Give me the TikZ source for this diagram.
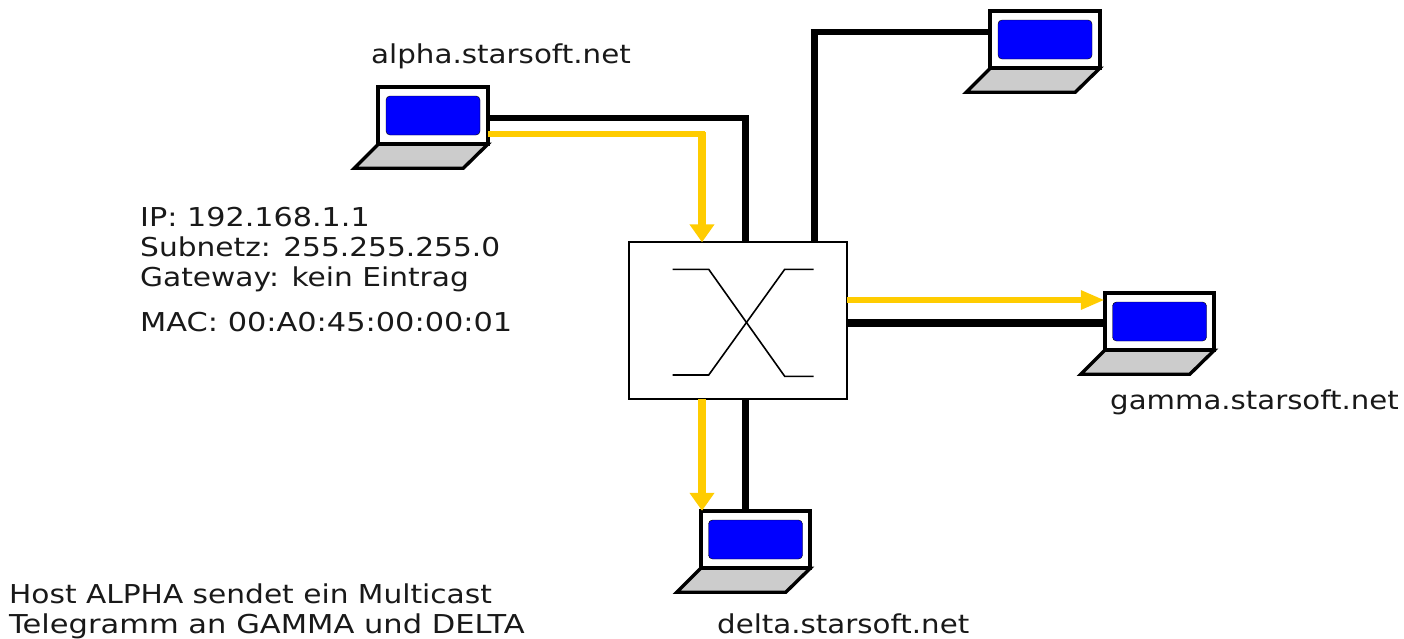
\documentclass[tikz,border=0pt]{standalone}
\usepackage{fontspec}
\setmainfont{DejaVu Sans}[FakeStretch=1.14]
\usetikzlibrary{arrows.meta,calc}
\definecolor{ygold}{RGB}{255,204,0}
\definecolor{lapgrey}{RGB}{204,204,204}
\definecolor{scrblue}{RGB}{0,0,255}
\tikzset{
  x=1pt,y=-1pt,
  screen/.style={draw=black,line width=3.8pt,fill=white,minimum width=109.5pt,minimum height=57.5pt,inner sep=0pt,outer sep=0pt},
  panel/.style={draw=black,line width=.4pt,fill=scrblue,rounded corners=4pt,minimum width=94pt,minimum height=39pt,inner sep=0pt},
  kbd/.style={draw=black,line width=3.4pt,fill=lapgrey,line join=miter},
  blackh/.style={draw=black,line width=5.5pt},
  blackv/.style={draw=black,line width=7pt},
  goldh/.style={draw=ygold,line width=5.5pt},
  goldv/.style={draw=ygold,line width=7.5pt},
  downtip/.style={-{Triangle[length=18pt,width=24pt,fill=ygold]}},
  righttip/.style={-{Triangle[length=24pt,width=18pt,fill=ygold]}},
  switchbox/.style={draw=black,line width=1.8pt,fill=white,minimum width=217.5pt,minimum height=156.5pt,inner sep=0pt,outer sep=0pt},
  cross/.style={draw=black,line width=1.6pt},
  lbl/.style={anchor=base west,font=\fontsize{26}{31}\selectfont,inner sep=0pt,text=black!90},
}
\newcommand{\laptop}[3]{%
  \node[screen] (#1) at (#2,#3) {};
  \node[panel] (#1p) at (#1.center) {};
  \draw[kbd] (#1.south west) -- ($(#1.south west)+(-24,24)$) -- ($(#1.south east)+(-24.5,24)$) -- (#1.south east) -- cycle;
}
\begin{document}
\begin{tikzpicture}
\useasboundingbox (0,0) rectangle (1404,638);
% switch
\node[switchbox] (sw) at (738,320.5) {};
% laptops
\laptop{alpha}{433}{115.5}
\laptop{top}{1045}{39.5}
\laptop{gamma}{1159.5}{321.5}
\laptop{delta}{755.5}{539.5}
% connection corners
\coordinate (a1) at (745,118);
\coordinate (a2) at (702,134);
\coordinate (t1) at (814,32);
% black connectors
\draw[blackh] ($(alpha.east |- a1)+(2,0)$) -- ($(a1)+(3.5,0)$);
\draw[blackv] (a1) ++(0,-2.75) -- (a1 |- sw.north);
\draw[blackv] (sw.north -| t1) -- ($(t1)+(0,-2.75)$);
\draw[blackh] ($(t1)+(-3.5,0)$) -- (t1 -| top.west);
\draw[blackv,line width=8pt] (sw.east |- 0,323) -- (gamma.west |- 0,323);
\draw[blackv] (sw.south -| a1) -- (delta.north -| a1);
% gold connectors
\draw[goldh] (alpha.east |- a2) -- ($(a2)+(3,0)$);
\draw[goldv,downtip] ($(a2)+(0,-2.5)$) -- (a2 |- sw.north);
\draw[goldh,line width=6pt,righttip] (sw.east |- 0,300) -- (gamma.west |- 0,300);
\draw[goldv,line width=8pt,downtip] (sw.south -| a2) -- (delta.north -| a2);
% cross
\coordinate (c1) at (672.7,269.3);
\coordinate (c2) at (708.7,269.3);
\coordinate (c3) at (784.7,376.3);
\coordinate (c4) at (813.7,376.3);
\coordinate (c5) at (672.7,375);
\coordinate (c6) at (708.7,375);
\coordinate (c7) at (784.7,269.3);
\coordinate (c8) at (813.7,269.3);
\draw[cross] (c1) -- (c2) -- (c3) -- (c4);
\draw[cross] (c5) -- (c6) -- (c7) -- (c8);
% labels
\node[lbl] (la) at (371,63) {\scalebox{.99}[1]{alpha.starsoft.net}};
\node[lbl] (lg) at (1110,409) {\scalebox{.985}[1]{gamma.starsoft.net}};
\node[lbl] (ld) at (717,633) {\scalebox{.988}[1]{delta.starsoft.net}};
\node[lbl] (l1) at (140,226) {\scalebox{1.02}[1]{IP: 192.168.1.1}};
\node[lbl] (l2) at (140,256) {Subnetz: 255.255.255.0};
\node[lbl] (l3) at (140,286) {Gateway: kein Eintrag};
\node[lbl] (l4) at (140,331) {\scalebox{1.025}[1]{MAC: 00:A0:45:00:00:01}};
\node[lbl] (h1) at (9,603) {Host ALPHA sendet ein Multicast};
\node[lbl] (h2) at (9,633) {\scalebox{1.03}[1]{Telegramm an GAMMA und DELTA}};
\end{tikzpicture}
\end{document}
